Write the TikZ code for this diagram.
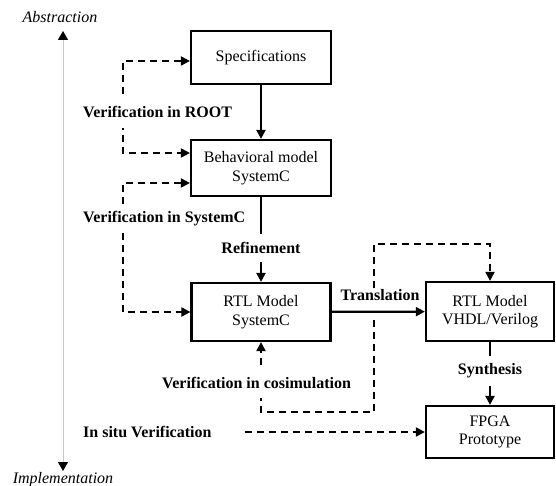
\documentclass[tikz,border=0pt]{standalone}
\usepackage{fontspec}
\setmainfont{Liberation Serif}
\usetikzlibrary{arrows.meta}
\begin{document}
\begin{tikzpicture}[x=1pt,y=-1pt,
  font=\fontsize{16}{18.5}\selectfont,
  box/.style={draw,line width=2.2pt,inner sep=0pt,align=center},
  solidarrow/.style={line width=2.2pt,-{Triangle[length=9pt,width=9pt]}},
  dasharrow/.style={line width=2pt,dash pattern=on 7pt off 5pt,-{Triangle[length=9pt,width=9pt]}},
  dashboth/.style={line width=2pt,dash pattern=on 7pt off 5pt,{Triangle[length=9pt,width=9pt]}-{Triangle[length=9pt,width=9pt]}},
  lbl/.style={font=\fontsize{16}{18.5}\selectfont\bfseries,inner sep=1pt},
  axislbl/.style={font=\fontsize{16}{18.5}\selectfont\itshape,inner sep=0pt},
  axisarrow/.style={draw=black!22,line width=1pt,-{Triangle[length=9pt,width=10pt,color=black]}}
]
\useasboundingbox (0,0) rectangle (556,486);

% boxes
\node[box,minimum width=140pt,minimum height=53pt] (spec) at (261,57.5) {Specifications};
\node[box,minimum width=140pt,minimum height=56pt] (behav) at (261,168) {Behavioral model\\SystemC};
\node[box,minimum width=139pt,minimum height=58pt] (rtlsc) at (261,312) {RTL Model\\SystemC};
\node[box,minimum width=128pt,minimum height=59pt] (rtlv) at (490,311.5) {RTL Model\\VHDL/Verilog};
\node[box,minimum width=128pt,minimum height=52pt] (fpga) at (490,432) {FPGA\\Prototype};

% axis
\draw[axisarrow] (63,250) -- (63,31);
\draw[axisarrow] (63,250) -- (63,471);
\node[axislbl] (abs) at (60,17) {Abstraction};
\node[axislbl] (impl) at (63,480) {Implementation};

% coordinates for dashed loops
\coordinate (r1) at (123,61);
\coordinate (r2) at (123,153);
\coordinate (s1) at (123,183);
\coordinate (s2) at (123,312);
\coordinate (tA) at (374,300);
\coordinate (tB) at (374,320);
\coordinate (tTop) at (374,244);
\coordinate (tBot) at (374,412);
\coordinate (cBot) at (261,412);

% dashed loops
\draw[dashboth] (r1 -| spec.west) -- (r1) -- (r2) -- (r2 -| behav.west);
\draw[dashboth] (s1 -| behav.west) -- (s1) -- (s2) -- (s2 -| rtlsc.west);
\draw[dasharrow] (tA) -- (tTop) -| (rtlv.north);
\draw[dasharrow] (tB) -- (tBot) -- (cBot) -- (rtlsc.south);

% left labels (cover dashed lines)
\node[lbl,anchor=west,fill=white,inner ysep=10pt] (vroot) at (82,112) {Verification in ROOT};
\node[lbl,anchor=west,fill=white,inner ysep=7pt] (vsysc) at (82,219) {Verification in SystemC};
\node[lbl,anchor=west,fill=white,inner ysep=9pt] (vcosim) at (161,383) {Verification in cosimulation};
\node[lbl,anchor=west] (insitu) at (82,432) {In situ Verification};

% solid arrows
\draw[solidarrow] (spec) -- (behav);
\draw[solidarrow] (behav) -- node[lbl,pos=0.6,fill=white,inner ysep=8pt] (refin) {Refinement} (rtlsc);
\draw[solidarrow] (rtlsc) -- (rtlv);
\node[lbl,fill=white] (transl) at (380,295) {Translation};
\draw[solidarrow] (rtlv) -- node[lbl,pos=0.46,fill=white,inner ysep=8pt] (synth) {Synthesis} (fpga);

% in situ
\draw[dasharrow] ([xshift=32pt]insitu.east) -- (fpga.west);
\end{tikzpicture}
\end{document}
